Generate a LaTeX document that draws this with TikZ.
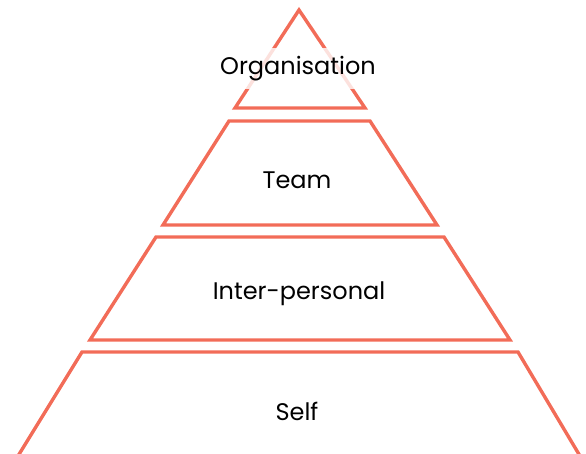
\documentclass[tikz,border=0pt]{standalone}
\usepackage{fontspec}
\setmainfont{Poppins}
\definecolor{salmon}{RGB}{242,108,88}
\tikzset{
  level/.style={draw=salmon, line width=3.4pt, line join=miter},
  lbl/.style={font=\fontsize{24}{28}\selectfont, text=black, inner sep=2pt},
}
\begin{document}
\begin{tikzpicture}[x=1pt,y=-1pt]
\useasboundingbox (0,0) rectangle (586,454);
\draw[level] (299,10) -- (365,108) -- (235,108) -- cycle;
\draw[level] (229,121) -- (370,121) -- (437,225) -- (163,225) -- cycle;
\draw[level] (156,237) -- (444,237) -- (510,340) -- (90,340) -- cycle;
\draw[level] (82,352) -- (518,352) -- (580,456) -- (18,456) -- cycle;
\node[lbl, fill=white, fill opacity=0.8, text opacity=1, inner ysep=8pt] (org) at (298,68.5) {Organisation};
\node[lbl] (team) at (297,180) {Team};
\node[lbl] (inter) at (299,293.5) {Inter-personal};
\node[lbl] (self) at (297,411) {Self};
\end{tikzpicture}
\end{document}
